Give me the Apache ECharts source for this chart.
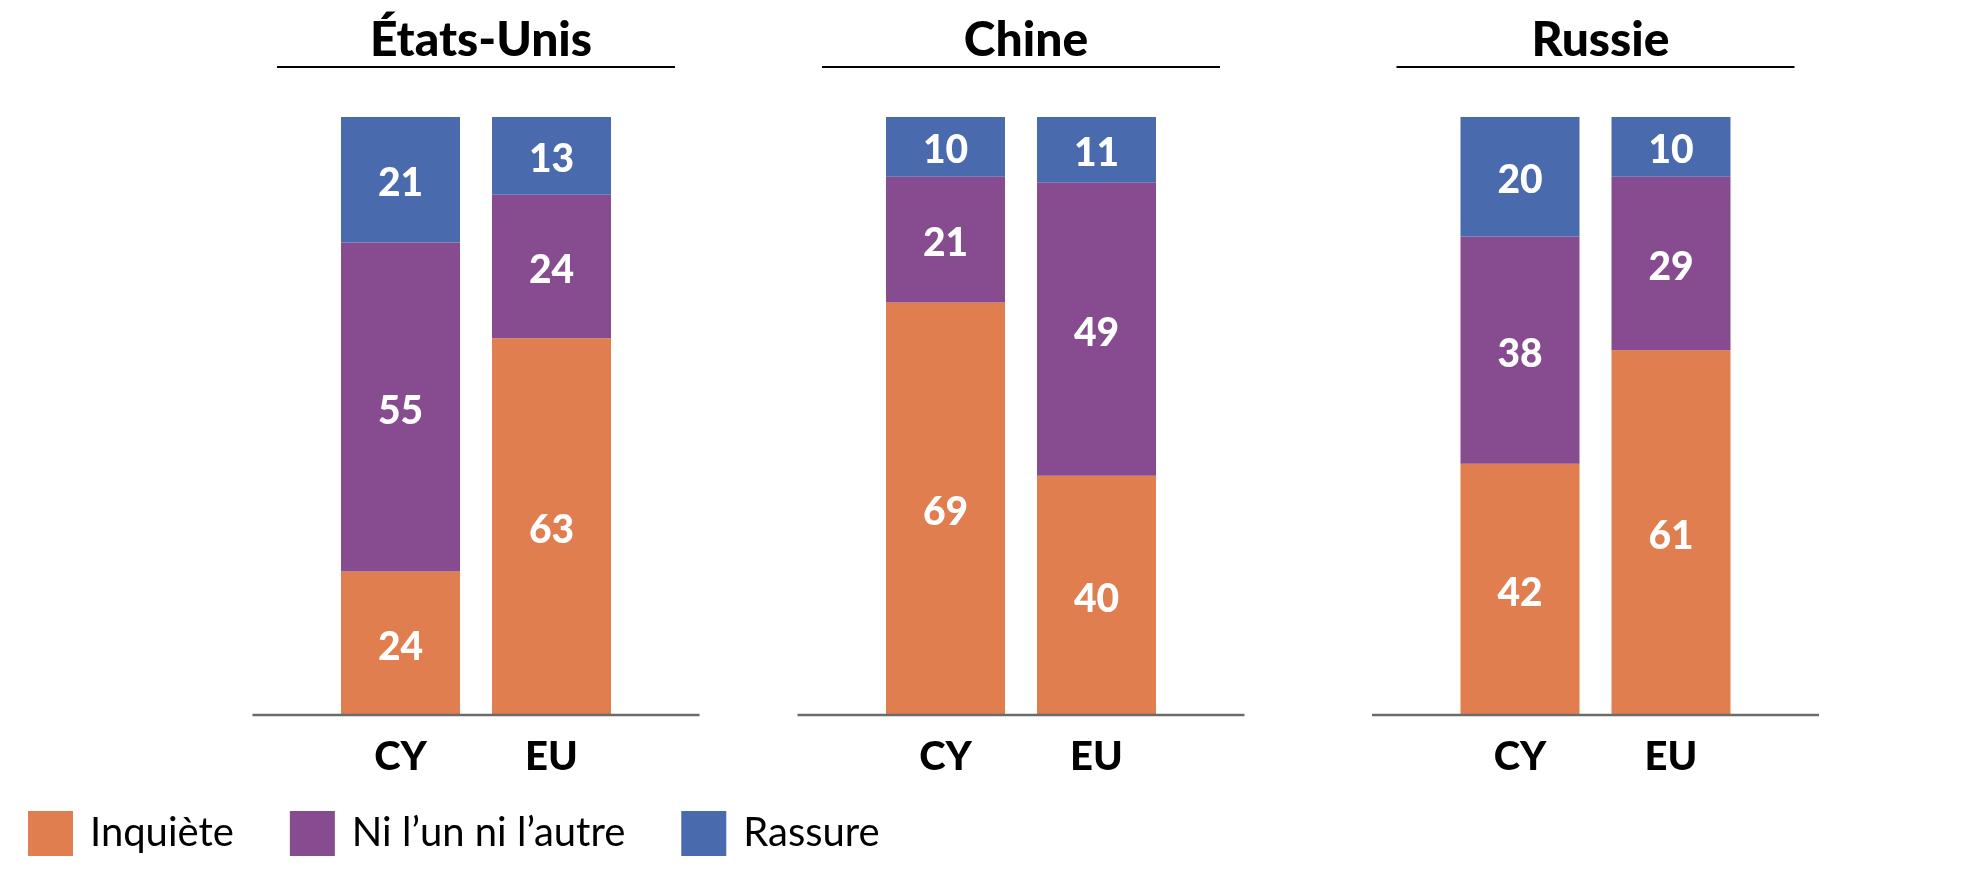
<!DOCTYPE html>
<html>
<head>
<meta charset="utf-8">
<title>Inquiète / Rassure</title>
<script src="https://cdn.jsdelivr.net/npm/echarts@6/dist/echarts.min.js"></script>
<style>
  html, body { margin: 0; padding: 0; background: #fff; }
  #chart { width: 1964px; height: 870px; }
</style>
</head>
<body>
<div id="chart"></div>
<script>
// données
var panels = ['États-Unis', 'Chine', 'Russie'];
var categories = ['CY', 'EU'];
var seriesNames = ['Inquiète', 'Ni l’un ni l’autre', 'Rassure'];
var inquiete = [[24, 63], [69, 40], [42, 61]];
var niLunNiLautre = [[55, 24], [21, 49], [38, 29]];
var rassure = [[21, 13], [10, 11], [20, 10]];

var colors = ['#E07E50', '#874C8F', '#496BAD'];
var font = 'Lato, "Open Sans", sans-serif';

// mise en page
var centers = [476, 1021, 1595.5];
var band = 151;
var gridTop = 117, gridHeight = 598;

var chart = echarts.init(document.getElementById('chart'));

var grids = [], xAxes = [], yAxes = [], titles = [], graphics = [], series = [];
var values = [inquiete, niLunNiLautre, rassure];

panels.forEach(function (name, i) {
    var c = centers[i];
    grids.push({ left: c - band, width: band * 2, top: gridTop, height: gridHeight });
    xAxes.push({
        type: 'category',
        gridIndex: i,
        data: categories,
        axisLine: { show: false },
        axisTick: { show: false },
        axisLabel: { color: '#000', fontFamily: font, fontWeight: 900, fontSize: 40, margin: 22 }
    });
    yAxes.push({ type: 'value', gridIndex: i, min: 0, max: 100, show: false });
    titles.push({
        text: name,
        left: c,
        top: 12,
        textAlign: 'center',
        textStyle: { color: '#000', fontFamily: font, fontWeight: 900, fontSize: 48 }
    });
    // trait sous le titre
    graphics.push({
        type: 'line',
        shape: { x1: c - 199, y1: 67, x2: c + 199, y2: 67 },
        style: { stroke: '#000', lineWidth: 2 }
    });
    // ligne de base
    graphics.push({
        type: 'line',
        shape: { x1: c - 223.5, y1: gridTop + gridHeight, x2: c + 223.5, y2: gridTop + gridHeight },
        style: { stroke: '#6b6b6b', lineWidth: 2.5 },
        z: 10
    });
    seriesNames.forEach(function (s, k) {
        series.push({
            name: s,
            type: 'bar',
            stack: 'p' + i,
            xAxisIndex: i,
            yAxisIndex: i,
            barWidth: 119,
            data: values[k][i],
            itemStyle: { color: colors[k] },
            label: {
                show: true,
                position: 'inside',
                offset: [0, 4],
                color: '#fff',
                fontFamily: font,
                fontWeight: 900,
                fontSize: 39
            }
        });
    });
});

var option = {
    animation: false,
    color: colors,
    title: titles,
    legend: {
        data: seriesNames,
        left: 23,
        top: 806,
        itemWidth: 45,
        itemHeight: 45,
        itemGap: 56,
        icon: 'rect',
        textStyle: { color: '#000', fontFamily: font, fontSize: 40, padding: [0, 0, 0, 12] }
    },
    grid: grids,
    xAxis: xAxes,
    yAxis: yAxes,
    series: series,
    graphic: graphics
};

chart.setOption(option);
</script>
</body>
</html>
